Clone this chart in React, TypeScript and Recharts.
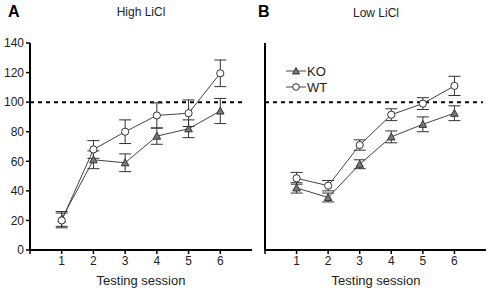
import React from 'react';
import {
  LineChart,
  Line,
  XAxis,
  YAxis,
  ReferenceLine,
  ErrorBar,
} from 'recharts';

// Testing sessions (x axis)
const sessions = [1, 2, 3, 4, 5, 6];
const xTicks = [0, 1, 2, 3, 4, 5, 6];
const yTicks = [0, 20, 40, 60, 80, 100, 120, 140];

// Panel A: High LiCl
const highKO = [21, 61, 59, 77, 82, 94];
const highKOErr = [5, 6, 6, 5.5, 6, 8.5];
const highWT = [20, 68, 80, 91, 92.5, 119.5];
const highWTErr = [5, 6, 8, 8.5, 9, 9];

// Panel B: Low LiCl
const lowKO = [42, 35.5, 58, 76.5, 85, 92.5];
const lowKOErr = [3.5, 3, 3, 4, 5, 5];
const lowWT = [48.5, 43.5, 71, 91.5, 99, 111];
const lowWTErr = [4, 3.5, 3.5, 4, 4, 6.5];

const FONT = 'Arial, "Liberation Sans", Helvetica, sans-serif';
const LINE = '#444';

function buildRows(ko: number[], koErr: number[], wt: number[], wtErr: number[]) {
  return sessions.map((s, i) => ({
    session: s,
    ko: ko[i],
    koErr: koErr[i],
    wt: wt[i],
    wtErr: wtErr[i],
  }));
}

function TriangleDot(props: { cx?: number; cy?: number; index?: number }) {
  const { cx, cy, index } = props;
  if (cx == null || cy == null) return null;
  const s = 3.8;
  return (
    <polygon
      key={`t-${index}`}
      points={`${cx},${cy - s} ${cx - s},${cy + s * 0.8} ${cx + s},${cy + s * 0.8}`}
      fill="#777"
      stroke="#333"
      strokeWidth={1}
    />
  );
}

function CircleDot(props: { cx?: number; cy?: number; index?: number }) {
  const { cx, cy, index } = props;
  if (cx == null || cy == null) return null;
  return <circle key={`c-${index}`} cx={cx} cy={cy} r={3.6} fill="#fff" stroke="#333" strokeWidth={1} />;
}

interface PanelProps {
  rows: ReturnType<typeof buildRows>;
  showYLabels: boolean;
  width: number;
  yAxisWidth: number;
  dashEnd: number;
}

function Panel({ rows, showYLabels, width, yAxisWidth, dashEnd }: PanelProps) {
  return (
    <LineChart
      width={width}
      height={291}
      data={rows}
      margin={{ top: 43, right: 0, left: 0, bottom: 0 }}
    >
      <XAxis
        dataKey="session"
        type="number"
        domain={[0, 7]}
        ticks={xTicks}
        tickFormatter={(v) => (v === 0 ? '' : String(v))}
        axisLine={{ stroke: '#000', strokeWidth: 2 }}
        tickLine={{ stroke: '#000', strokeWidth: 1.5 }}
        tickSize={4}
        tick={{ fill: '#222', fontSize: 12, fontFamily: FONT }}
        height={41}
        interval={0}
      />
      <YAxis
        type="number"
        domain={[0, 140]}
        ticks={yTicks}
        width={yAxisWidth}
        axisLine={{ stroke: '#000', strokeWidth: 2 }}
        tickLine={{ stroke: '#000', strokeWidth: 1.5 }}
        tickSize={4}
        tick={showYLabels ? { fill: '#222', fontSize: 12, fontFamily: FONT } : false}
        interval={0}
      />
      <ReferenceLine
        segment={[
          { x: 0, y: 100 },
          { x: dashEnd, y: 100 },
        ]}
        stroke="#000"
        strokeWidth={2}
        strokeDasharray="4 4"
      />
      <Line
        dataKey="ko"
        stroke={LINE}
        strokeWidth={1}
        dot={<TriangleDot />}
        activeDot={false}
        isAnimationActive={false}
      >
        <ErrorBar dataKey="koErr" width={6} stroke="#333" strokeWidth={1} direction="y" />
      </Line>
      <Line
        dataKey="wt"
        stroke={LINE}
        strokeWidth={1}
        dot={<CircleDot />}
        activeDot={false}
        isAnimationActive={false}
      >
        <ErrorBar dataKey="wtErr" width={6} stroke="#333" strokeWidth={1} direction="y" />
      </Line>
    </LineChart>
  );
}

function LegendRow({ label, marker }: { label: string; marker: 'tri' | 'circle' }) {
  return (
    <div style={{ display: 'flex', alignItems: 'center', height: 16 }}>
      <svg width={20} height={10}>
        <line x1={0} y1={5} x2={20} y2={5} stroke={LINE} strokeWidth={1} />
        {marker === 'tri' ? (
          <polygon points="10,1.5 6.5,8 13.5,8" fill="#777" stroke="#333" strokeWidth={1} />
        ) : (
          <circle cx={10} cy={5} r={3.3} fill="#fff" stroke="#333" strokeWidth={1} />
        )}
      </svg>
      <span style={{ marginLeft: 1, fontSize: 13, color: '#222' }}>{label}</span>
    </div>
  );
}

export default function App() {
  const highRows = buildRows(highKO, highKOErr, highWT, highWTErr);
  const lowRows = buildRows(lowKO, lowKOErr, lowWT, lowWTErr);

  const text: React.CSSProperties = {
    position: 'absolute',
    fontFamily: FONT,
    fontSize: 12,
    color: '#222',
    whiteSpace: 'nowrap',
  };

  return (
    <div
      style={{
        position: 'absolute',
        left: 0,
        top: 0,
        width: 490,
        height: 291,
        background: '#fff',
        fontFamily: FONT,
        overflow: 'hidden',
      }}
    >
      <div style={{ position: 'absolute', left: 0, top: 0 }}>
        <Panel rows={highRows} showYLabels width={252} yAxisWidth={30} dashEnd={6.8} />
      </div>
      <div style={{ position: 'absolute', left: 245, top: 0 }}>
        <Panel rows={lowRows} showYLabels={false} width={241} yAxisWidth={20} dashEnd={6.9} />
      </div>

      <div style={{ ...text, left: 8, top: 3, fontSize: 16, fontWeight: 'bold', color: '#000' }}>A</div>
      <div style={{ ...text, left: 141, top: 5, transform: 'translateX(-50%)' }}>High LiCl</div>
      <div style={{ ...text, left: 258, top: 3, fontSize: 16, fontWeight: 'bold', color: '#000' }}>B</div>
      <div style={{ ...text, left: 376, top: 6, transform: 'translateX(-50%)' }}>Low LiCl</div>

      <div style={{ ...text, left: 141, top: 273, transform: 'translateX(-50%)', fontSize: 13 }}>
        Testing session
      </div>
      <div style={{ ...text, left: 376, top: 273, transform: 'translateX(-50%)', fontSize: 13 }}>
        Testing session
      </div>

      <div style={{ position: 'absolute', left: 286, top: 63, fontFamily: FONT }}>
        <LegendRow label="KO" marker="tri" />
        <LegendRow label="WT" marker="circle" />
      </div>
    </div>
  );
}
